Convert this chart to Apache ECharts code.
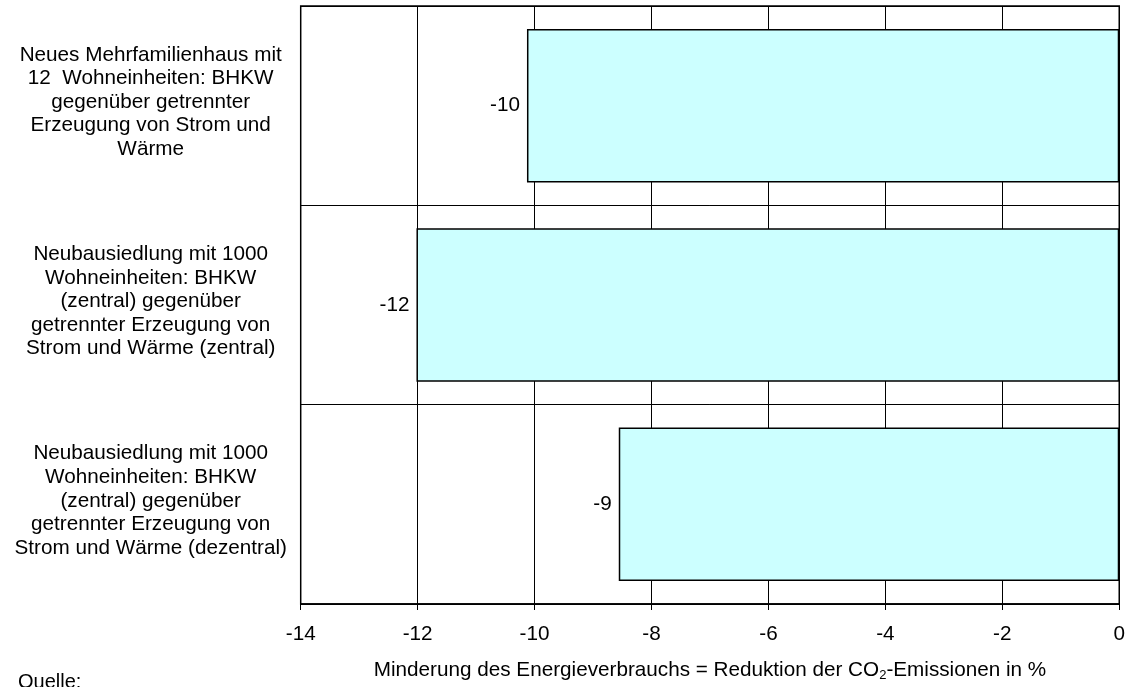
<!DOCTYPE html>
<html>
<head>
<meta charset="utf-8">
<script src="https://cdn.jsdelivr.net/npm/echarts@6/dist/echarts.min.js"></script>
<style>
html,body{margin:0;padding:0;background:#fff;}
#c{width:1128px;height:687px;}
</style>
</head>
<body>
<div id="c"></div>
<script>
const categories = [
  "Neues Mehrfamilienhaus mit\n12  Wohneinheiten: BHKW\ngegenüber getrennter\nErzeugung von Strom und\nWärme",
  "Neubausiedlung mit 1000\nWohneinheiten: BHKW\n(zentral) gegenüber\ngetrennter Erzeugung von\nStrom und Wärme (zentral)",
  "Neubausiedlung mit 1000\nWohneinheiten: BHKW\n(zentral) gegenüber\ngetrennter Erzeugung von\nStrom und Wärme (dezentral)"
];
const values = [-10.13, -12.02, -8.56];
const xMin = -14, xMax = 0, xStep = 2;
const axisTitle = "Minderung des Energieverbrauchs = Reduktion der CO{sub|2}-Emissionen in %";
const sourceText = "Quelle:";

const FONT = "'Liberation Sans', Arial, sans-serif";
const FS = 20.7;
const chart = echarts.init(document.getElementById('c'));
chart.setOption({
  backgroundColor: '#fff',
  animation: false,
  textStyle: { fontFamily: FONT },
  grid: { left: 300.7, right: 5, top: 6, bottom: 77, show: true, borderColor: '#000', borderWidth: 1.5, backgroundColor: 'transparent' },
  xAxis: {
    type: 'value', min: xMin, max: xMax, interval: xStep,
    axisLine: { show: true, onZero: false, lineStyle: { color: '#000', width: 1.5 } },
    axisTick: { show: true, inside: false, length: 6, lineStyle: { color: '#000', width: 1 } },
    axisLabel: { color: '#000', fontSize: FS, fontFamily: FONT, margin: 20 },
    splitLine: { show: true, lineStyle: { color: '#000', width: 1 } },
    name: axisTitle,
    nameLocation: 'middle',
    nameGap: 55,
    nameTextStyle: { color: '#000', fontSize: FS, fontFamily: FONT,
      rich: { sub: { fontSize: 13, fontFamily: FONT, color: '#000', padding: [10, 0, 0, 0] } } }
  },
  yAxis: {
    type: 'category', data: categories, inverse: true,
    axisLine: { show: false },
    axisTick: { show: false },
    splitLine: { show: true, lineStyle: { color: '#000', width: 1 } },
    axisLabel: {
      color: '#000', fontSize: FS, fontFamily: FONT, lineHeight: 23.6, align: 'center', margin: 150, interval: 0,
      formatter: v => v.split('\n').map(s => '{t|' + s + '}').join('\n') + '\n{s|}',
      rich: {
        t: { fontSize: FS, fontFamily: FONT, color: '#000', lineHeight: 23.6 },
        s: { fontSize: 4, lineHeight: 7 }
      }
    }
  },
  series: [{
    type: 'bar',
    data: values,
    barCategoryGap: '23%',
    itemStyle: { color: '#CCFFFF', borderColor: '#000', borderWidth: 1.5 },
    label: { show: true, position: 'left', distance: 7, color: '#000', fontSize: FS, fontFamily: FONT,
      formatter: p => String(Math.round(p.value)) }
  }],
  graphic: [{
    type: 'text', left: 18, top: 672,
    style: { text: sourceText, fontSize: 20, fontFamily: FONT, fill: '#000' }
  }]
});
</script>
</body>
</html>
